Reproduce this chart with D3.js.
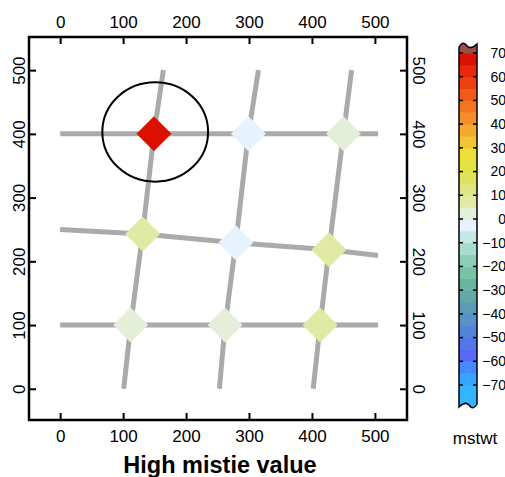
<!DOCTYPE html>
<html>
<head>
<meta charset="utf-8">
<script src="https://cdn.jsdelivr.net/npm/d3@7"></script>
<style>
  body { margin: 0; background: #fff; }
  svg { display: block; font-family: "Liberation Sans", Arial, sans-serif; }
  .axis text { font-size: 17px; fill: #000; }
  .axis line { stroke: #000; stroke-width: 2; }
</style>
</head>
<body>
<svg width="505" height="477"></svg>
<script>
// crossing tracks, points are [x, y]
const ewTracks = [
  [[0, 100], [112, 100], [262, 100], [413, 100], [505, 100]],
  [[0, 250], [131, 243], [279, 229], [427, 218], [505, 209]],
  [[0, 400], [149, 400], [299, 400], [450, 400], [505, 400]]
];
const nsTracks = [
  [[101, 0], [112, 100], [131, 243], [149, 400], [164, 500]],
  [[253, 0], [262, 100], [279, 229], [299, 400], [315, 500]],
  [[402, 0], [413, 100], [427, 218], [450, 400], [463, 500]]
];

// mistie at each crossing
const crossX = [112, 262, 413, 131, 279, 427, 149, 299, 450];
const crossY = [100, 100, 100, 243, 229, 218, 400, 400, 400];
const mistie = [3, 3, 8, 8, -3, 8, 67, -3, 3];

// highlighted crossing
const highlight = {x: 151, y: 403, rx: 84, ry: 78};

const axisTicks = [0, 100, 200, 300, 400, 500];

// colour scale, 5 unit steps from -70 to 70
const colorSteps = d3.range(-70, 71, 5);
const colorList = [
  '#33b4ff', '#38a4ff', '#4688ff', '#5668f8', '#5476ea', '#5484da', '#5890c8',
  '#5c9cb6', '#62a8a8', '#6ab4a2', '#78c2a6', '#8ccfb6', '#a6dccc', '#c6e8e4',
  '#e6f3ff', '#e4eed8', '#e1eaa4', '#dfe680', '#dfe25a', '#e4e23e', '#ece036',
  '#f0c434', '#f4a830', '#f48e28', '#f47520', '#f25a18', '#ee3f10', '#e82808',
  '#dc1000', '#9a5048'
];
const barTicks = d3.range(70, -71, -10);

const svg = d3.select('svg');

const x = d3.scaleLinear().domain([-49.5, 551]).range([29, 407]);
const y = d3.scaleLinear().domain([-49, 552]).range([420, 37]);
const color = d3.scaleThreshold().domain(colorSteps).range(colorList);

const line = d3.line().x(d => x(d[0])).y(d => y(d[1]));

// tracks
svg.append('g')
  .selectAll('path')
  .data(ewTracks.concat(nsTracks))
  .join('path')
  .attr('d', line)
  .attr('fill', 'none')
  .attr('stroke', '#aaaaaa')
  .attr('stroke-width', 5);

// crossings
const diamond = d3.symbol(d3.symbolSquare, 612);
svg.append('g')
  .selectAll('path')
  .data(mistie)
  .join('path')
  .attr('d', diamond)
  .attr('transform', (d, i) => `translate(${x(crossX[i])},${y(crossY[i])}) rotate(45)`)
  .attr('fill', d => color(d));

svg.append('ellipse')
  .attr('cx', x(highlight.x))
  .attr('cy', y(highlight.y))
  .attr('rx', x(highlight.rx) - x(0))
  .attr('ry', y(0) - y(highlight.ry))
  .attr('fill', 'none')
  .attr('stroke', '#000')
  .attr('stroke-width', 2);

// axes, ticks point inward
svg.append('g').attr('class', 'axis')
  .attr('transform', 'translate(0,37)')
  .call(d3.axisTop(x).tickValues(axisTicks).tickSize(-7).tickPadding(9))
  .call(g => g.select('.domain').remove());

svg.append('g').attr('class', 'axis')
  .attr('transform', 'translate(0,420)')
  .call(d3.axisBottom(x).tickValues(axisTicks).tickSize(-7).tickPadding(10))
  .call(g => g.select('.domain').remove());

svg.append('g').attr('class', 'axis')
  .attr('transform', 'translate(29,0)')
  .call(d3.axisLeft(y).tickValues(axisTicks).tickSize(-7))
  .call(g => g.select('.domain').remove())
  .call(g => g.selectAll('text')
    .attr('x', null).attr('dy', null)
    .attr('text-anchor', 'middle')
    .attr('transform', 'translate(-4,0) rotate(-90)'));

svg.append('g').attr('class', 'axis')
  .attr('transform', 'translate(407,0)')
  .call(d3.axisRight(y).tickValues(axisTicks).tickSize(-7))
  .call(g => g.select('.domain').remove())
  .call(g => g.selectAll('text')
    .attr('x', null).attr('dy', null)
    .attr('text-anchor', 'middle')
    .attr('transform', 'translate(6,0) rotate(90)'));

svg.append('rect')
  .attr('x', 29).attr('y', 37)
  .attr('width', 378).attr('height', 383)
  .attr('fill', 'none')
  .attr('stroke', '#000')
  .attr('stroke-width', 2.5);

svg.append('text')
  .attr('x', 220).attr('y', 473)
  .attr('text-anchor', 'middle')
  .attr('font-size', 23.5)
  .attr('font-weight', 'bold')
  .text('High mistie value');

// colour bar
const barX0 = 459, barX1 = 477;
const cy = d3.scaleLinear().domain([-70, 70]).range([385, 53]);
const capTop = 44, capBottom = 407;
const bar = svg.append('g');

const bands = colorList.map((c, i) => {
  const lo = i === 0 ? null : colorSteps[i - 1];
  const hi = i === colorList.length - 1 ? null : colorSteps[i];
  return {c, y0: hi === null ? capTop - 4 : cy(hi), y1: lo === null ? capBottom + 4 : cy(lo)};
});

const clipTop = `M${barX0},${capTop + 3} Q${barX0 + 4},${capTop - 4} ${barX0 + 8},${capTop + 2} ` +
  `Q${barX0 + 12},${capTop + 6} ${barX1},${capTop}`;
const clipBottom = `L${barX1},${capBottom - 3} Q${barX1 - 4},${capBottom + 4} ${barX1 - 8},${capBottom - 2} ` +
  `Q${barX1 - 12},${capBottom - 6} ${barX0},${capBottom} Z`;

svg.append('clipPath').attr('id', 'barclip')
  .append('path').attr('d', clipTop + clipBottom);

bar.append('g').attr('clip-path', 'url(#barclip)')
  .selectAll('rect')
  .data(bands)
  .join('rect')
  .attr('x', barX0).attr('width', barX1 - barX0)
  .attr('y', d => d.y0)
  .attr('height', d => d.y1 - d.y0 + 0.5)
  .attr('fill', d => d.c);

bar.append('path')
  .attr('d', clipTop + clipBottom)
  .attr('fill', 'none')
  .attr('stroke', '#000')
  .attr('stroke-width', 1.5);

bar.selectAll('.dash')
  .data(barTicks)
  .join('g')
  .attr('class', 'dash')
  .call(g => g.append('line')
    .attr('x1', barX0).attr('x2', barX0 + 4)
    .attr('y1', d => cy(d)).attr('y2', d => cy(d)))
  .call(g => g.append('line')
    .attr('x1', barX1 - 4).attr('x2', barX1)
    .attr('y1', d => cy(d)).attr('y2', d => cy(d)))
  .selectAll('line')
  .attr('stroke', '#000')
  .attr('stroke-width', 1.5);

bar.selectAll('.lab')
  .data(barTicks)
  .join('text')
  .attr('class', 'lab')
  .attr('x', 506)
  .attr('y', d => cy(d))
  .attr('dy', '0.35em')
  .attr('text-anchor', 'end')
  .attr('font-size', 14)
  .text(d => d < 0 ? '\u2212' + Math.abs(d) : d);

svg.append('text')
  .attr('x', 475).attr('y', 444)
  .attr('text-anchor', 'middle')
  .attr('font-size', 17)
  .text('mstwt');
</script>
</body>
</html>
